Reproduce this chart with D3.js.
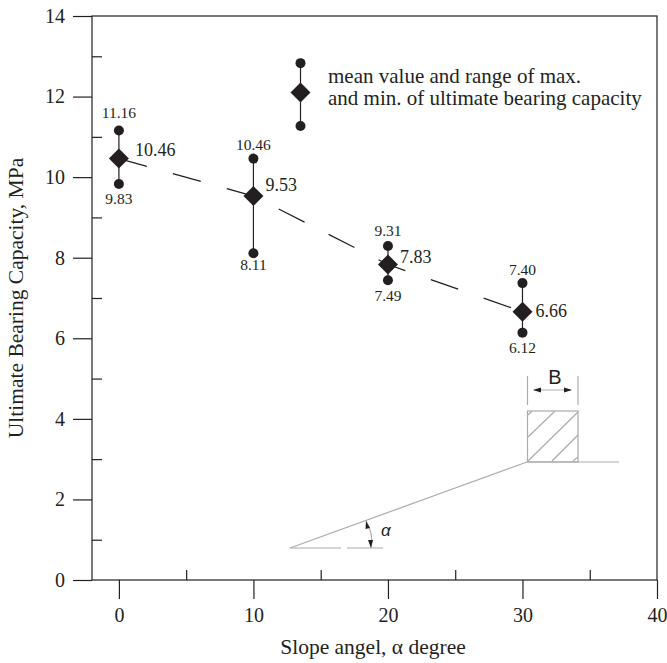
<!DOCTYPE html>
<html>
<head>
<meta charset="utf-8">
<script src="https://cdn.jsdelivr.net/npm/d3@7"></script>
<style>
  html, body { margin: 0; background: #fff; }
  text { font-family: "Liberation Serif", serif; fill: #231f20; }
</style>
</head>
<body>
<svg id="chart" width="667" height="663"></svg>
<script>
const angles = [0, 10, 20, 30]
const meanValues = [10.46, 9.53, 7.83, 6.66]
const maxValues = [11.16, 10.46, 8.29, 7.37]
const minValues = [9.83, 8.11, 7.44, 6.14]
const maxLabels = ["11.16", "10.46", "9.31", "7.40"]
const minLabels = ["9.83", "8.11", "7.49", "6.12"]
const meanLabels = ["10.46", "9.53", "7.83", "6.66"]
const xMajorTicks = [0, 10, 20, 30, 40]
const xMinorTicks = [5, 15, 25, 35]
const yMajorTicks = [0, 2, 4, 6, 8, 10, 12, 14]
const yMinorTicks = [1, 3, 5, 7, 9, 11, 13]
const legendPoint = { angle: 13.5, mean: 12.1, max: 12.83, min: 11.27 }
const legendLines = ["mean value and range of max.", "and min. of ultimate bearing capacity"]

const ink = "#231f20"
const gray = "#a9abae"
const svg = d3.select("#chart")
const x = d3.scaleLinear().domain([-2, 40]).range([92, 657])
const y = d3.scaleLinear().domain([0, 14]).range([580, 16])

// axes
const axisStyle = g => {
  g.select(".domain").remove()
  g.selectAll("line").attr("stroke", ink).attr("stroke-width", 1.2)
  g.selectAll("text").attr("font-size", 20).attr("fill", ink)
}
svg.append("g").attr("transform", "translate(0,580)")
  .call(d3.axisBottom(x).tickValues(xMajorTicks).tickSize(19).tickPadding(9))
  .call(axisStyle)
svg.append("g").attr("transform", "translate(0,580)")
  .call(d3.axisTop(x).tickValues(xMinorTicks).tickSize(10).tickFormat(""))
  .call(axisStyle)
svg.append("g").attr("transform", "translate(92,0)")
  .call(d3.axisLeft(y).tickValues(yMajorTicks).tickSize(19).tickPadding(8))
  .call(axisStyle)
svg.append("g").attr("transform", "translate(92,0)")
  .call(d3.axisRight(y).tickValues(yMinorTicks).tickSize(10).tickFormat(""))
  .call(axisStyle)

// frame
svg.append("rect")
  .attr("x", x(-2)).attr("y", y(14))
  .attr("width", x(40) - x(-2)).attr("height", y(0) - y(14))
  .attr("fill", "none").attr("stroke", ink).attr("stroke-width", 1.2)

svg.append("text")
  .attr("transform", "translate(23,298) rotate(-90)")
  .attr("text-anchor", "middle").attr("font-size", 21.5)
  .text("Ultimate Bearing Capacity, MPa")
svg.append("text")
  .attr("x", 373).attr("y", 654)
  .attr("text-anchor", "middle").attr("font-size", 21.5)
  .text("Slope angel, α degree")

// dashed mean line
const meanLine = d3.line().x(d => x(d[0])).y(d => y(d[1]))
svg.append("path")
  .attr("d", meanLine(d3.zip(angles, meanValues)))
  .attr("fill", "none").attr("stroke", ink).attr("stroke-width", 1.2)
  .attr("stroke-dasharray", "29 27")

// range bars and markers
const drawMarker = (g, angle, mean, max, min) => {
  g.append("line")
    .attr("x1", x(angle)).attr("x2", x(angle))
    .attr("y1", y(max)).attr("y2", y(min))
    .attr("stroke", ink).attr("stroke-width", 1.2)
  ;[max, min].forEach(v => {
    g.append("circle").attr("cx", x(angle)).attr("cy", y(v)).attr("r", 5).attr("fill", ink)
  })
  const r = 10
  g.append("path")
    .attr("d", `M0,${-r}L${r},0L0,${r}L${-r},0Z`)
    .attr("transform", `translate(${x(angle)},${y(mean)})`)
    .attr("fill", ink)
}
angles.forEach((a, i) => drawMarker(svg, a, meanValues[i], maxValues[i], minValues[i]))
drawMarker(svg, legendPoint.angle, legendPoint.mean, legendPoint.max, legendPoint.min)

// label offsets from their marks, read per point
const maxDy = [-12, -9, -10, -8]
const minDy = [20, 17, 21, 20]
const meanDx = [16, 12, 12, 13]
const meanDy = [-3, -5, -2, 5]
angles.forEach((a, i) => {
  svg.append("text")
    .attr("x", x(a)).attr("y", y(maxValues[i]) + maxDy[i])
    .attr("text-anchor", "middle").attr("font-size", 15.5)
    .text(maxLabels[i])
  svg.append("text")
    .attr("x", x(a)).attr("y", y(minValues[i]) + minDy[i])
    .attr("text-anchor", "middle").attr("font-size", 15.5)
    .text(minLabels[i])
  svg.append("text")
    .attr("x", x(a) + meanDx[i]).attr("y", y(meanValues[i]) + meanDy[i])
    .attr("font-size", 18)
    .text(meanLabels[i])
})

legendLines.forEach((t, i) => {
  svg.append("text")
    .attr("x", 328).attr("y", 83 + i * 22)
    .attr("font-size", 21)
    .text(t)
})

// footing sketch, drawn in pixels over the plot
const sketch = svg.append("g").attr("fill", "none").attr("stroke", gray).attr("stroke-width", 1.2)
const seg = (x1, y1, x2, y2) => sketch.append("line")
  .attr("x1", x1).attr("y1", y1).attr("x2", x2).attr("y2", y2)
seg(290, 548, 527, 462)
seg(527, 462, 619, 462)
seg(290, 548, 341, 548)
seg(347, 548, 383, 548)
sketch.append("rect").attr("x", 527.5).attr("y", 411).attr("width", 50.5).attr("height", 51)
seg(527.5, 376, 527.5, 405)
seg(578, 376, 578, 405)
seg(534, 390, 571, 390)
seg(528, 415, 532, 411)
seg(528, 437, 555, 411)
seg(528, 461, 578, 412)
seg(552, 461, 578, 435)
seg(573, 461, 578, 457)
sketch.append("path").attr("d", "M366,521Q374,534 371,548")

const arrows = svg.append("g").attr("fill", ink)
arrows.append("path").attr("d", "M533,390L541,387.5L541,392.5Z")
arrows.append("path").attr("d", "M572,390L564,387.5L564,392.5Z")
arrows.append("path").attr("d", "M366,521L370,528L365.5,529Z")
arrows.append("path").attr("d", "M371,548L368,540L373,540Z")

svg.append("text")
  .attr("x", 555).attr("y", 384).attr("text-anchor", "middle")
  .attr("font-size", 20).style("font-family", "'Liberation Sans', sans-serif")
  .text("B")
svg.append("text")
  .attr("x", 381).attr("y", 536)
  .attr("font-size", 17).attr("font-style", "italic")
  .style("font-family", "'Liberation Sans', sans-serif")
  .text("α")
</script>
</body>
</html>
